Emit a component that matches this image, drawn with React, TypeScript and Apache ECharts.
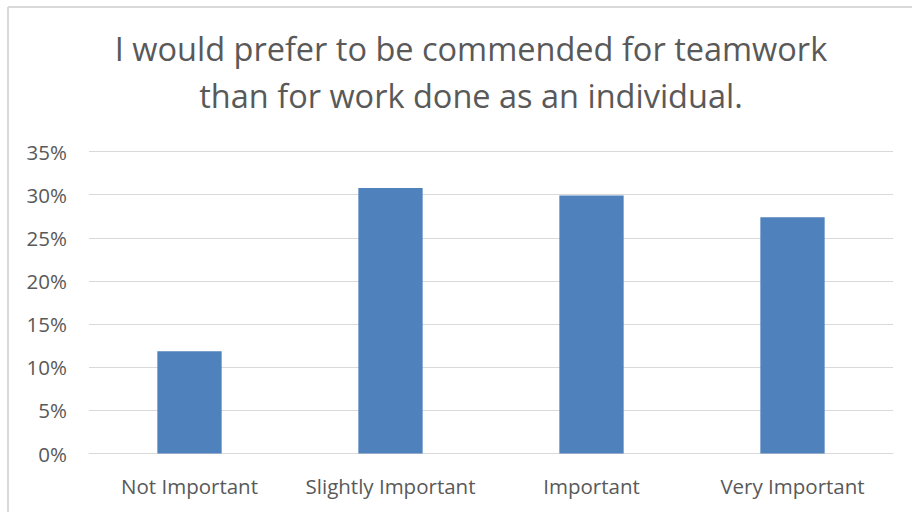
import React, { useEffect, useRef } from "react";
import * as echarts from "echarts";

const titleLines = [
  "I would prefer to be commended for teamwork",
  "than for work done as an individual.",
];
const categories = ["Not Important", "Slightly Important", "Important", "Very Important"];
const values = [11.85, 30.77, 29.9, 27.37];
const yTicks = [0, 5, 10, 15, 20, 25, 30, 35];

export default function App() {
  const ref = useRef<HTMLDivElement>(null);
  useEffect(() => {
    if (!ref.current) return;
    const chart = echarts.init(ref.current, null, { renderer: "svg" });
    const font = "'Open Sans', 'Noto Sans', sans-serif";
    chart.setOption({
      animation: false,
      backgroundColor: "#ffffff",
      title: {
        text: titleLines.join("\n"),
        left: 466,
        textAlign: "center",
        top: 20,
        textStyle: {
          fontFamily: font,
          fontSize: 32.5,
          fontWeight: "normal",
          color: "#595959",
          lineHeight: 47,
        },
      },
      graphic: [
        { type: "line", shape: { x1: 8, y1: 7, x2: 8, y2: 512 }, style: { stroke: "#d9d9d9", lineWidth: 2 } },
        { type: "line", shape: { x1: 8, y1: 7, x2: 912, y2: 7 }, style: { stroke: "#d9d9d9", lineWidth: 2 } },
      ],
      grid: { left: 89, right: 19, top: 151.5, bottom: 58.5, containLabel: false },
      xAxis: {
        type: "category",
        data: categories,
        axisLine: { show: true, lineStyle: { color: "#d9d9d9", width: 1 } },
        axisTick: { show: false },
        axisLabel: {
          interval: 0,
          hideOverlap: false,
          fontFamily: font,
          fontSize: 20.5,
          color: "#595959",
          margin: 22,
        },
      },
      yAxis: {
        type: "value",
        min: yTicks[0],
        max: yTicks[yTicks.length - 1],
        interval: 5,
        axisLine: { show: false },
        axisTick: { show: false },
        splitLine: { lineStyle: { color: "#d9d9d9", width: 1 } },
        axisLabel: {
          fontFamily: font,
          fontSize: 20.5,
          color: "#595959",
          margin: 22,
          formatter: (v: number) => `${v}%`,
        },
      },
      series: [
        {
          type: "bar",
          data: values,
          barWidth: "32%",
          itemStyle: { color: "#4f81bd" },
        },
      ],
    });
    return () => chart.dispose();
  }, []);
  return (
    <div
      ref={ref}
      style={{ position: "absolute", left: 0, top: 0, width: 912, height: 512 }}
    />
  );
}
